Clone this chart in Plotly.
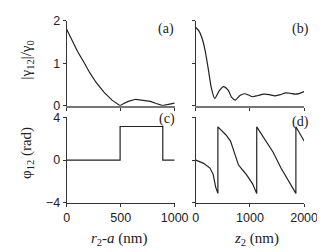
import plotly.graph_objects as go

# ---- data ----
r2a = [0, 40, 100, 160, 215, 275, 345, 420, 470, 495, 520, 570, 640, 710, 775, 830, 875, 890, 920, 960, 1000]
gamma_a = [1.80, 1.58, 1.28, 1.02, 0.77, 0.54, 0.32, 0.13, 0.04, 0.0, 0.04, 0.10, 0.15, 0.13, 0.10, 0.05, 0.015, 0.0, 0.02, 0.04, 0.06]

r2a_phase = [0, 495, 495, 890, 890, 1000]
phase_c = [0, 0, 3.14, 3.14, 0, 0]

z2 = [0, 58, 117, 175, 233, 292, 350, 437, 512, 600, 660, 728, 815, 903, 975, 1049, 1150, 1253,
      1357, 1457, 1560, 1661, 1750, 1836, 1920, 2000]
gamma_b = [1.84, 1.76, 1.58, 1.28, 0.84, 0.39, 0.17, 0.36, 0.45, 0.36, 0.20, 0.13, 0.24, 0.28,
           0.25, 0.21, 0.24, 0.27, 0.26, 0.23, 0.26, 0.30, 0.29, 0.27, 0.29, 0.33]

z2_phase = [0, 145, 262, 320, 367, 408, 408, 480, 554, 641, 690, 728, 787, 860, 932, 1049, 1125,
            1125, 1200, 1282, 1428, 1573, 1719, 1848, 1848, 1981, 2000]
phase_d = [0, -0.3, -0.74, -1.33, -2.52, -3.11, 3.11, 2.75, 2.37, 1.78, 1.1, 0.44, -0.44, -0.9,
           -1.33, -2.22, -3.11, 3.11, 2.5, 1.92, 0.74, -0.74, -1.93, -3.11, 3.11, 1.92, 1.78]

x_ticks_a = [0, 500, 1000]
x_ticks_b = [0, 1000, 2000]
y_ticks_top = [0, 1, 2]
y_ticks_bot = [-4, 0, 4]

W, H = 325, 252
def px(x): return x / W
def py(y): return 1 - y / H

LINE = dict(color="#222", width=1.2)

fig = go.Figure()
fig.add_trace(go.Scatter(x=r2a, y=gamma_a, mode="lines", line=LINE, xaxis="x", yaxis="y"))
fig.add_trace(go.Scatter(x=z2, y=gamma_b, mode="lines", line=dict(LINE, shape="spline", smoothing=0.8), xaxis="x2", yaxis="y2"))
fig.add_trace(go.Scatter(x=r2a_phase, y=phase_c, mode="lines", line=LINE, xaxis="x3", yaxis="y3"))
fig.add_trace(go.Scatter(x=z2_phase, y=phase_d, mode="lines", line=LINE, xaxis="x4", yaxis="y4"))

tickfont = dict(family="Liberation Sans, Arial, sans-serif", size=12.5, color="#222")
common = dict(showline=True, linecolor="#333", linewidth=1, ticks="outside", ticklen=3,
              tickcolor="#333", tickwidth=1, showgrid=False, zeroline=False, tickfont=tickfont)

xa_dom = [px(58.7), px(172.7)]
xb_dom = [px(195), px(309.3)]
ytop_dom = [py(96), py(6)]
ybot_dom = [py(199), py(108.3)]

fig.update_layout(
    width=W, height=H, margin=dict(l=0, r=0, t=0, b=0),
    paper_bgcolor="white", plot_bgcolor="white", showlegend=False,
    xaxis=dict(common, domain=xa_dom, range=[0, 1000], anchor="y", tickvals=x_ticks_a,
               showticklabels=False, linecolor="#777", linewidth=2),
    yaxis=dict(common, domain=ytop_dom, range=[0, 2], anchor="x", tickvals=y_ticks_top),
    xaxis2=dict(common, domain=xb_dom, range=[0, 2000], anchor="y2", tickvals=x_ticks_b,
                showticklabels=False, linecolor="#777", linewidth=2),
    yaxis2=dict(common, domain=ytop_dom, range=[0, 2], anchor="x2", tickvals=y_ticks_top,
                showticklabels=False),
    xaxis3=dict(common, domain=xa_dom, range=[0, 1000], anchor="y3", tickvals=x_ticks_a),
    yaxis3=dict(common, domain=ybot_dom, range=[-4, 4], anchor="x3", tickvals=y_ticks_bot),
    xaxis4=dict(common, domain=xb_dom, range=[0, 2000], anchor="y4", tickvals=x_ticks_b),
    yaxis4=dict(common, domain=ybot_dom, range=[-4, 4], anchor="x4", tickvals=y_ticks_bot,
                showticklabels=False),
)

serif = "Liberation Serif, Times New Roman, serif"
def ann(text, x, y, size=14, angle=0):
    fig.add_annotation(text=text, x=px(x), y=py(y), xref="paper", yref="paper",
                       showarrow=False, textangle=angle, xanchor="center", yanchor="middle",
                       font=dict(family=serif, size=size, color="#222"))

ann("(a)", 164, 15)
ann("(b)", 305, 15)
ann("(c)", 165, 110)
ann("(d)", 306, 113)
ann("<i>r</i><sub>2</sub>-<i>a</i> (nm)", 115, 237, size=15)
ann("<i>z</i><sub>2</sub> (nm)", 259, 237, size=15)
ann("|γ<sub>12</sub>|/γ<sub>0</sub>", 17, 48, size=15, angle=-90)
ann("φ<sub>12</sub> (rad)", 17, 146, size=15, angle=-90)

fig.write_html("out.html")
